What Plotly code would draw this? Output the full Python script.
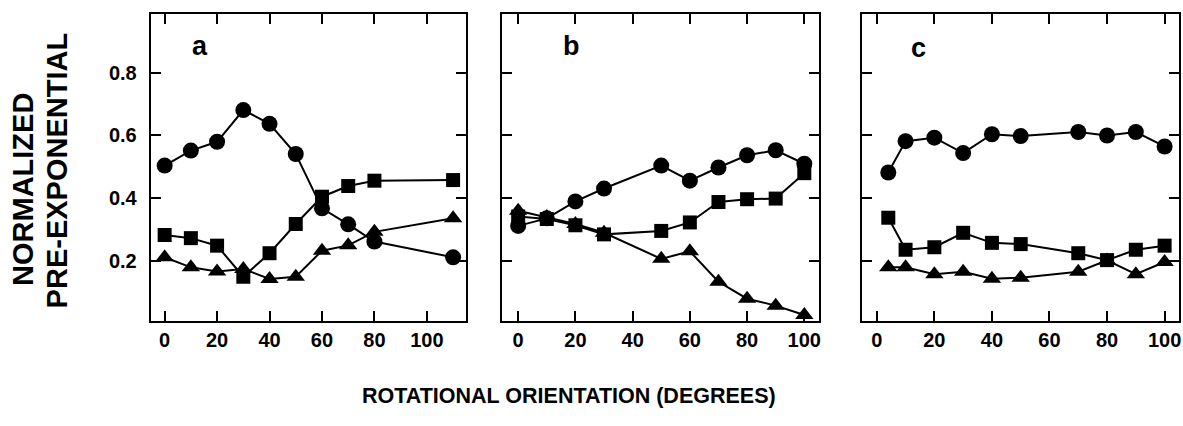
import plotly.graph_objects as go

# ---- data ----
a_circ_x = [0, 10, 20, 30, 40, 50, 60, 70, 80, 110]
a_circ_y = [0.504, 0.552, 0.580, 0.681, 0.637, 0.541, 0.368, 0.317, 0.262, 0.212]
a_sq_x = [0, 10, 20, 30, 40, 50, 60, 70, 80, 110]
a_sq_y = [0.283, 0.273, 0.249, 0.150, 0.225, 0.318, 0.405, 0.439, 0.456, 0.458]
a_tri_x = [0, 10, 20, 30, 40, 50, 60, 70, 80, 110]
a_tri_y = [0.212, 0.180, 0.167, 0.175, 0.143, 0.150, 0.233, 0.250, 0.293, 0.336]

b_circ_x = [0, 10, 20, 30, 50, 60, 70, 80, 90, 100]
b_circ_y = [0.312, 0.336, 0.390, 0.431, 0.504, 0.456, 0.498, 0.537, 0.553, 0.510]
b_sq_x = [0, 10, 20, 30, 50, 60, 70, 80, 90, 100]
b_sq_y = [0.342, 0.334, 0.314, 0.285, 0.296, 0.323, 0.388, 0.397, 0.399, 0.480]
b_tri_x = [0, 10, 20, 30, 50, 60, 70, 80, 90, 100]
b_tri_y = [0.360, 0.340, 0.318, 0.290, 0.207, 0.231, 0.134, 0.080, 0.058, 0.028]

c_circ_x = [4, 10, 20, 30, 40, 50, 70, 80, 90, 100]
c_circ_y = [0.482, 0.582, 0.593, 0.544, 0.604, 0.598, 0.611, 0.600, 0.611, 0.565]
c_sq_x = [4, 10, 20, 30, 40, 50, 70, 80, 90, 100]
c_sq_y = [0.338, 0.236, 0.244, 0.290, 0.258, 0.254, 0.225, 0.203, 0.236, 0.249]
c_tri_x = [4, 10, 20, 30, 40, 50, 70, 80, 90, 100]
c_tri_y = [0.180, 0.180, 0.158, 0.166, 0.144, 0.147, 0.166, 0.202, 0.158, 0.197]

x_ticks = [0, 20, 40, 60, 80, 100]
y_ticks = [0.2, 0.4, 0.6, 0.8]
y_tick_labels = ["0.2", "0.4", "0.6", "0.8"]
panel_labels = ["a", "b", "c"]
x_title = "ROTATIONAL ORIENTATION (DEGREES)"
y_title_lines = ["NORMALIZED", "PRE-EXPONENTIAL"]

FONT = "Liberation Sans"
W, H = 1183, 426

panels = [
    (a_circ_x, a_circ_y, a_sq_x, a_sq_y, a_tri_x, a_tri_y),
    (b_circ_x, b_circ_y, b_sq_x, b_sq_y, b_tri_x, b_tri_y),
    (c_circ_x, c_circ_y, c_sq_x, c_sq_y, c_tri_x, c_tri_y),
]

x_domains = [[151 / W, 467 / W], [503 / W, 820 / W], [863 / W, 1181 / W]]
y_domain = [1 - 320.7 / H, 1 - 14 / H]
x_ranges = [[-5.3, 115], [-5.6, 105], [-5.3, 105]]
y_range = [0.01, 0.987]
label_pos = [(13.6, 0.885), (18.7, 0.885), (14.5, 0.88)]

fig = go.Figure()

for i, (cx, cy, sx, sy, tx, ty) in enumerate(panels):
    xa = "x" if i == 0 else f"x{i+1}"
    ya = "y" if i == 0 else f"y{i+1}"
    for xs, ys, sym, sz in [(cx, cy, "circle", 16), (sx, sy, "square", 14), (tx, ty, "triangle-up", 16)]:
        fig.add_trace(go.Scatter(
            x=xs, y=ys, mode="lines+markers", xaxis=xa, yaxis=ya,
            line=dict(color="black", width=2),
            marker=dict(symbol=sym, size=sz, color="black", line=dict(width=0)),
            cliponaxis=False, showlegend=False, hoverinfo="skip",
        ))
    axis_common = dict(showline=True, linecolor="black", linewidth=2, mirror="allticks",
                       ticks="inside", tickcolor="black", tickwidth=1.5, showgrid=False,
                       zeroline=False)
    xkey = "xaxis" if i == 0 else f"xaxis{i+1}"
    ykey = "yaxis" if i == 0 else f"yaxis{i+1}"
    fig.update_layout({
        xkey: dict(domain=x_domains[i], range=x_ranges[i], anchor=ya,
                   tickvals=x_ticks, ticklen=10, ticklabelstandoff=0,
                   tickfont=dict(family=FONT, size=20, color="black", weight="bold"),
                   **axis_common),
        ykey: dict(domain=y_domain, range=y_range, anchor=xa,
                   tickvals=y_ticks, ticktext=y_tick_labels, ticklen=10,
                   showticklabels=(i == 0), ticklabelstandoff=8,
                   tickfont=dict(family=FONT, size=20, color="black", weight="bold"),
                   **axis_common),
    })
    lx, ly = label_pos[i]
    fig.add_annotation(x=lx, y=ly, xref=xa, yref=ya, text=panel_labels[i], showarrow=False,
                       font=dict(family=FONT, size=27, color="black", weight="bold"))

fig.add_annotation(x=570 / W, y=1 - 396 / H, xref="paper", yref="paper", text=x_title,
                   showarrow=False, xanchor="center", yanchor="middle",
                   font=dict(family=FONT, size=21.5, color="black", weight="bold"))
fig.add_annotation(x=23 / W, y=1 - 189 / H, xref="paper", yref="paper", text=y_title_lines[0],
                   showarrow=False, textangle=-90, xanchor="center", yanchor="middle",
                   font=dict(family=FONT, size=29, color="black", weight="bold"))
fig.add_annotation(x=57.5 / W, y=1 - 170 / H, xref="paper", yref="paper", text=y_title_lines[1],
                   showarrow=False, textangle=-90, xanchor="center", yanchor="middle",
                   font=dict(family=FONT, size=29, color="black", weight="bold"))

fig.update_layout(width=W, height=H, margin=dict(l=0, r=0, t=0, b=0),
                  paper_bgcolor="white", plot_bgcolor="white")

fig.write_html("out.html")
